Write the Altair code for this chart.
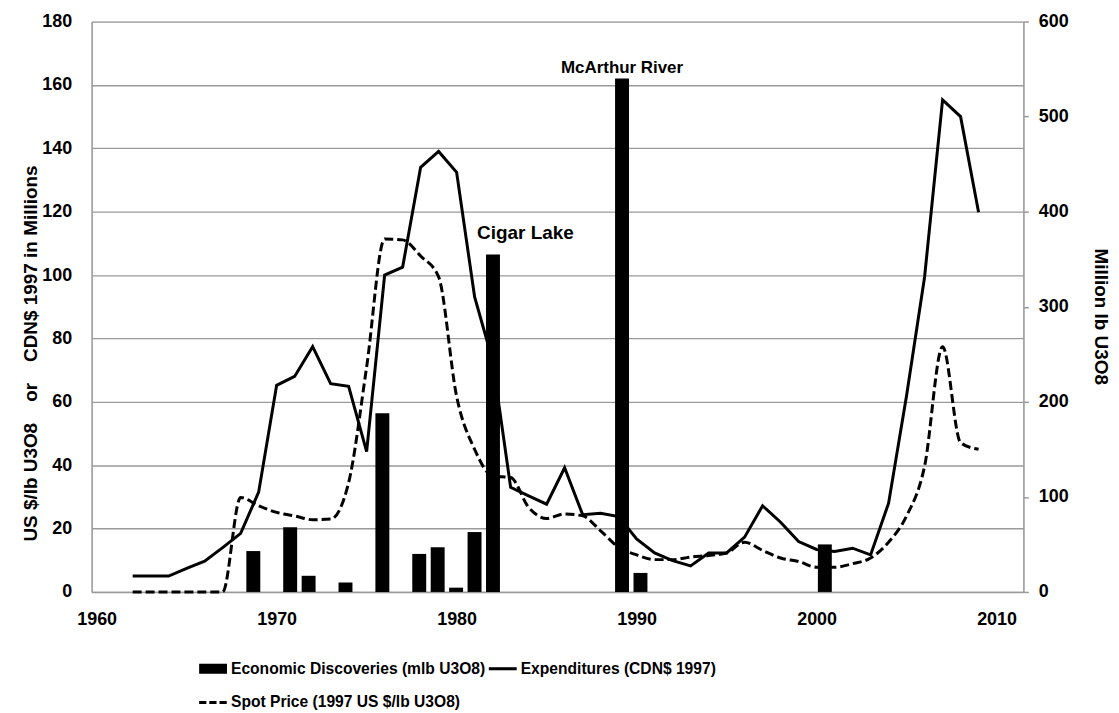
import altair as alt
import pandas as pd

# ---- data ----
line_years = list(range(1962, 2010))
expenditures = [5.0, 5.0, 5.0, 7.4, 9.7, 14.0, 18.5, 31.5, 65.2, 68.0, 77.4, 65.7, 64.9, 44.3,
                100.0, 102.5, 134.0, 139.0, 132.4, 93.1, 73.0, 33.0, 30.3, 27.7, 39.2, 24.4,
                24.8, 23.8, 16.7, 12.3, 9.9, 8.2, 12.3, 12.3, 17.3, 27.2, 22.0, 15.9, 13.4,
                12.8, 13.8, 11.7, 28.0, 62.0, 99.4, 155.3, 150.0, 119.8]
spot_price = [0, 0, 0, 0, 0, 0, 29.8, 27.2, 25.1, 24.0, 22.8, 23.0, 34.5, 71.0,
              111.4, 111.1, 106.0, 99.4, 61.7, 45.0, 36.6, 36.1, 26.7, 23.2, 24.6, 24.0,
              19.3, 14.1, 11.7, 10.2, 10.2, 11.0, 11.5, 12.3, 15.7, 13.1, 10.7, 9.6, 7.8,
              7.8, 8.9, 10.7, 15.7, 24.0, 39.7, 77.4, 47.1, 45.0]
bar_years = [1969, 1971, 1972, 1974, 1976, 1978, 1979, 1980, 1981, 1982, 1989, 1990, 2000]
discoveries = [43, 68, 17, 10, 188, 40, 47, 4.5, 63, 355, 540, 20, 50]
ann_labels = ["Cigar Lake", "McArthur River"]
ann_years = [1982, 1989]
ann_values = [355, 540]
x_ticks = [1960, 1970, 1980, 1990, 2000, 2010]
left_ticks = [0, 20, 40, 60, 80, 100, 120, 140, 160, 180]
right_ticks = [0, 100, 200, 300, 400, 500, 600]
series_names = ["Economic Discoveries (mlb U3O8)", "Expenditures (CDN$ 1997)",
                "Spot Price (1997 US $/lb U3O8)"]
# legend glyphs as filled shapes: solid block, thin line, three dashes
legend_paths = ["M-1,-0.36H1V0.36H-1Z",
                "M-1,-0.11H1V0.11H-1Z",
                "M-1,-0.11H-0.48V0.11H-1ZM-0.27,-0.11H0.25V0.11H-0.27ZM0.46,-0.11H0.98V0.11H0.46Z"]

FONT = "Liberation Sans"
GRID = "#9a9a9a"

lines_df = pd.DataFrame({"year": line_years, "exp": expenditures, "spot": spot_price})
bars_df = pd.DataFrame({"year": bar_years, "disc": discoveries})
ann_df = pd.DataFrame({"year": ann_years, "disc": ann_values, "label": ann_labels})

GAP = " " + "\u00a0" * 3
left_title = "US $/lb U3O8" + GAP + "or" + GAP + "CDN$ 1997 in Millions"

x_line_scale = alt.Scale(domain=[1959.72, 2011.49], nice=False, zero=False)
x_axis = alt.Axis(values=x_ticks, format="d", title=None, grid=False, ticks=False,
                  labelPadding=19, labelFont=FONT, labelFontWeight="bold", labelFontSize=18,
                  labelColor="black", domainColor=GRID, domainWidth=1.5)
y_left_scale = alt.Scale(domain=[0, 180], nice=False, zero=True)
y_left_axis = alt.Axis(orient="left", values=left_ticks, grid=True, gridColor=GRID,
                       gridWidth=1.3, ticks=False, labelPadding=20, labelFont=FONT,
                       labelFontWeight="bold", labelFontSize=18, labelColor="black",
                       domainColor=GRID, domainWidth=1.5, title=left_title,
                       titleFont=FONT, titleFontWeight="bold", titleFontSize=19,
                       titleColor="black", titleAngle=-90, titleX=-61, titleY=333,
                       titleAlign="center", titleBaseline="middle")

base = alt.Chart(lines_df)
solid = base.mark_line(color="black", strokeWidth=3).encode(
    x=alt.X("year:Q", scale=x_line_scale, axis=x_axis),
    y=alt.Y("exp:Q", scale=y_left_scale, axis=y_left_axis),
)
dashed = base.mark_line(color="black", strokeWidth=3, strokeDash=[9, 4],
                        interpolate="monotone").encode(
    x=alt.X("year:Q", scale=x_line_scale, axis=x_axis),
    y=alt.Y("spot:Q", scale=y_left_scale, axis=y_left_axis),
)
legend_layer = alt.Chart(alt.Data(values=[{"series": s} for s in series_names])).transform_filter(
    "false"
).mark_point(filled=True, color="black", strokeWidth=0).encode(
    shape=alt.Shape("series:N",
                    scale=alt.Scale(domain=series_names, range=legend_paths),
                    legend=alt.Legend(title=None, orient="none", legendX=108, legendY=636,
                                      columns=2, direction="horizontal",
                                      symbolSize=784, symbolStrokeWidth=0,
                                      symbolFillColor="black",
                                      symbolOpacity=1, labelFont=FONT,
                                      labelFontWeight="bold", labelFontSize=15.7,
                                      labelColor="black", labelLimit=600, labelOffset=4,
                                      columnPadding=3, rowPadding=12))
)
lines_layer = alt.layer(solid, dashed, legend_layer)

x_bar_scale = alt.Scale(domain=[1960.5, 2010.5], nice=False, zero=False)
y_right_scale = alt.Scale(domain=[0, 600], nice=False, zero=True)
y_right_axis = alt.Axis(orient="right", values=right_ticks, grid=False, ticks=True,
                        tickSize=5, tickColor=GRID, tickWidth=1.5, labelPadding=10,
                        labelFont=FONT, labelFontWeight="bold", labelFontSize=18,
                        labelColor="black", domainColor=GRID, domainWidth=1.5,
                        title="Million lb U3O8", titleAngle=90, titleFont=FONT,
                        titleFontWeight="bold", titleFontSize=19, titleColor="black",
                        titleX=77, titleY=296, titleAlign="center",
                        titleBaseline="middle")

bars = alt.Chart(bars_df).mark_bar(color="black", size=14).encode(
    x=alt.X("year:Q", scale=x_bar_scale, axis=None),
    y=alt.Y("disc:Q", scale=y_right_scale, axis=y_right_axis),
)
ann_base = alt.Chart(ann_df)
ann_cigar = ann_base.transform_filter(alt.datum.label == "Cigar Lake").mark_text(
    font=FONT, fontWeight="bold", fontSize=19, color="black", align="left",
    baseline="alphabetic", dx=-16, dy=-16
).encode(
    x=alt.X("year:Q", scale=x_bar_scale, axis=None),
    y=alt.Y("disc:Q", scale=y_right_scale, axis=y_right_axis),
    text="label:N",
)
ann_mc = ann_base.transform_filter(alt.datum.label == "McArthur River").mark_text(
    font=FONT, fontWeight="bold", fontSize=17, color="black", align="center",
    baseline="alphabetic", dy=-6
).encode(
    x=alt.X("year:Q", scale=x_bar_scale, axis=None),
    y=alt.Y("disc:Q", scale=y_right_scale, axis=y_right_axis),
    text="label:N",
)
bars_layer = alt.layer(bars, ann_cigar, ann_mc)

chart = alt.layer(lines_layer, bars_layer).resolve_scale(
    x="independent", y="independent"
).properties(
    width=936, height=573,
    padding={"left": 84, "top": 12, "right": 88, "bottom": 118},
    autosize=alt.AutoSizeParams(type="none"),
).configure_view(stroke=None).configure(background="white")

chart.save("out.html", embed_options={"renderer": "svg", "actions": False})
